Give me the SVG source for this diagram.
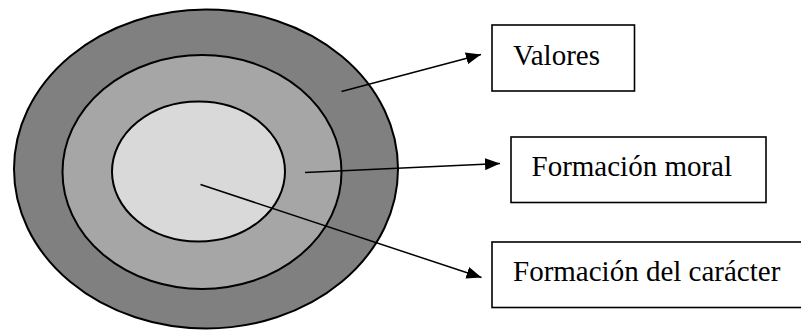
<svg xmlns="http://www.w3.org/2000/svg" width="801" height="330" viewBox="0 0 801 330">
  <style>
    .ring { stroke: #000; stroke-width: 2; }
    .box { fill: #fff; stroke: #000; stroke-width: 1.6; }
    .label { font-size: 29px; fill: #000; }
    .link { stroke: #000; stroke-width: 1.5; fill: none; marker-end: url(#head); }
  </style>
  <defs>
    <marker id="head" markerUnits="userSpaceOnUse" markerWidth="16" markerHeight="12" refX="15" refY="6" orient="auto">
      <path d="M0,0 L15,6 L0,12 z" fill="#000"/>
    </marker>
  </defs>
  <rect width="801" height="330" fill="#fff"/>

  <!-- concentric layers -->
  <g id="outer-ring">
    <ellipse class="ring" cx="206" cy="169" rx="192" ry="159.5" fill="#808080"/>
  </g>
  <g id="middle-ring">
    <ellipse class="ring" cx="202" cy="172" rx="139.5" ry="117" fill="#a6a6a6"/>
  </g>
  <g id="inner-core">
    <ellipse class="ring" cx="198.5" cy="171.5" rx="86.5" ry="70" fill="#d9d9d9"/>
  </g>

  <!-- labels -->
  <g id="valores">
    <rect class="box" x="492" y="25" width="142.5" height="66"/>
    <text class="label" font-family="Liberation Serif, DejaVu Serif, serif" x="513" y="65">Valores</text>
  </g>
  <g id="formacion-moral">
    <rect class="box" x="511" y="137" width="255" height="65.5"/>
    <text class="label" font-family="Liberation Serif, DejaVu Serif, serif" x="531.5" y="175.5">Formación moral</text>
  </g>
  <g id="formacion-caracter">
    <rect class="box" x="492" y="242" width="320" height="65.5"/>
    <text class="label" font-family="Liberation Serif, DejaVu Serif, serif" x="513" y="280.5">Formación del carácter</text>
  </g>

  <g id="connectors">
    <line class="link" x1="341.5" y1="91.5" x2="481" y2="54.5"/>
    <line class="link" x1="305" y1="172.5" x2="500" y2="163.5"/>
    <line class="link" x1="200.5" y1="184.5" x2="481.5" y2="277.5"/>
  </g>
</svg>
